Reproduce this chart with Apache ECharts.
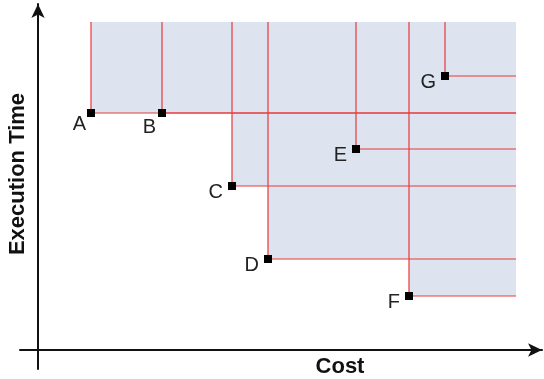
<!DOCTYPE html>
<html>
<head>
    <meta charset="utf-8">
    <title>Cost vs Execution Time</title>
    <script src="https://cdn.jsdelivr.net/npm/echarts@6/dist/echarts.min.js"></script>
</head>
<body style="margin:0">
<div id="main" style="width: 544px;height: 379px;"></div>
<script type="text/javascript">
    // plan names and their values
    var names = ['A', 'B', 'C', 'D', 'E', 'F', 'G'];
    var cost = [5.3, 12.4, 19.4, 23.0, 31.8, 37.1, 40.7];
    var execTime = [23.7, 23.7, 16.4, 9.1, 20.1, 5.4, 27.4];
    // edges of the dominated region
    var costEdge = 47.8;
    var timeEdge = 32.8;

    var points = names.map(function (n, i) {
        return {name: n, value: [cost[i], execTime[i]]};
    });

    // label nudges (style only)
    var labelShift = {A: [4, 11], B: [3, 14]};

    var myChart = echarts.init(document.getElementById('main'));

    myChart.setOption({
        animation: false,
        grid: {left: 20, right: 2, top: 4, bottom: 10},
        xAxis: {
            type: 'value', min: -1.8, max: 50.4,
            axisLine: {onZero: true, symbol: ['none', 'arrow'], symbolSize: [10, 14],
                lineStyle: {color: '#111', width: 2}},
            axisTick: {show: false}, axisLabel: {show: false}, splitLine: {show: false}
        },
        yAxis: {
            type: 'value', min: -1.9, max: 34.6,
            axisLine: {onZero: true, symbol: ['none', 'arrow'], symbolSize: [10, 14],
                lineStyle: {color: '#111', width: 2}},
            axisTick: {show: false}, axisLabel: {show: false}, splitLine: {show: false}
        },
        graphic: [
            {type: 'text', x: 340, y: 367, style: {text: 'Cost', font: 'bold 22px "Liberation Sans", Arial',
                fill: '#111', textAlign: 'center', textVerticalAlign: 'middle'}},
            {type: 'text', x: 18, y: 174, rotation: Math.PI / 2,
                style: {text: 'Execution Time', font: 'bold 22px "Liberation Sans", Arial',
                    fill: '#111', textAlign: 'center', textVerticalAlign: 'middle'}}
        ],
        series: [
            {
                // dominated region of each plan
                type: 'custom', z: 1, silent: true,
                data: points,
                renderItem: function (params, api) {
                    var p = api.coord([api.value(0), api.value(1)]);
                    var c = api.coord([costEdge, timeEdge]);
                    return {type: 'rect', shape: {x: p[0], y: c[1], width: c[0] - p[0], height: p[1] - c[1]},
                        style: {fill: '#dde4ef'}};
                }
            },
            {
                // red guides up and right from each plan
                type: 'custom', z: 2, silent: true,
                data: points,
                renderItem: function (params, api) {
                    var x = api.value(0), y = api.value(1);
                    return {type: 'polyline', shape: {points: [api.coord([x, timeEdge]), api.coord([x, y]), api.coord([costEdge, y])]},
                        style: {stroke: '#e8393c', lineWidth: 1.2, fill: null}};
                }
            },
            {
                type: 'scatter', z: 3,
                symbol: 'rect', symbolSize: 8,
                itemStyle: {color: '#000', opacity: 1},
                data: points.map(function (p) {
                    return {name: p.name, value: p.value,
                        label: {offset: labelShift[p.name] || [0, 6]}};
                }),
                label: {
                    show: true, position: 'left', distance: 5,
                    formatter: '{b}', fontSize: 20, color: '#222',
                    fontFamily: '"Liberation Sans", Arial'
                }
            }
        ]
    });
</script>
</body>
</html>
